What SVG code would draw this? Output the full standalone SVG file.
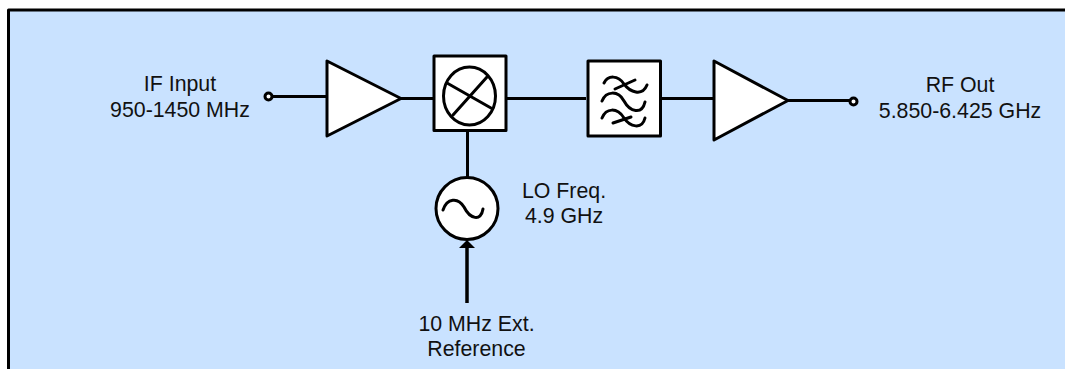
<svg xmlns="http://www.w3.org/2000/svg" width="1065" height="369" viewBox="0 0 1065 369">
<style>
.s{stroke:#000;stroke-width:3;fill:none;stroke-linejoin:round}
.t{stroke:#000;stroke-width:3;fill:none;stroke-linecap:round}
.b{stroke:#000;stroke-width:3;fill:#fff;stroke-linejoin:round}
text{font-family:"Liberation Sans",Arial,sans-serif;font-size:21.33px;fill:#111;text-anchor:middle}
</style>
<rect width="1065" height="369" fill="#fff"/>
<path d="M8.500 369V10H1065V369Z" fill="#c9e2ff"/>
<path d="M8.500 369V10H1065" class="s"/>
<g id="connectors">
<path class="s" d="M272 96.500H327M401 98.500H434M505 98.500H586M660 98.500H714M788 100.500H850M467.500 131V178"/>
<path d="M467 303V245" stroke="#000" stroke-width="3.500" fill="none"/>
<path d="M467 240L459 248H475Z" fill="#000"/>
</g>
<g id="if-in"><circle class="b" cx="268.500" cy="96.500" r="3.500"/><text x="180" y="91">IF Input</text><text x="180" y="117">950-1450 MHz</text></g>
<g id="amp1"><path class="b" d="M327 61V136L401 98.500Z"/></g>
<g id="mixer"><rect class="b" x="434" y="56" width="72" height="74.500"/><ellipse class="b" cx="469.500" cy="96" rx="26" ry="29"/><path class="t" d="M447 83L491 108M487 77L453 115"/></g>
<g id="filter"><rect class="b" x="588" y="61" width="72.500" height="75"/><path class="t" d="M604 83C608 75 618 75 624 84C630 92 642 97 647 85M615 89L635 80M602 101C606 91 618 90 624 101C630 112 642 115 645 102M602 118C606 108 617 107 624 118C630 127 642 130 645 118M613 123L631 117"/></g>
<g id="amp2"><path class="b" d="M714 61V140L788 100.500Z"/></g>
<g id="rf-out"><circle class="b" cx="853.500" cy="101.500" r="3.500"/><text x="960" y="92">RF Out</text><text x="960" y="118">5.850-6.425 GHz</text></g>
<g id="lo"><circle class="b" cx="467" cy="208.500" r="31"/><path class="t" d="M443 210C447 198 458 197 464 207C470 219 481 222 483 209"/><text x="564" y="198">LO Freq.</text><text x="564" y="223">4.9 GHz</text></g>
<g id="ref"><text x="476.500" y="331">10 MHz Ext.</text><text x="476.500" y="356">Reference</text></g>
</svg>
